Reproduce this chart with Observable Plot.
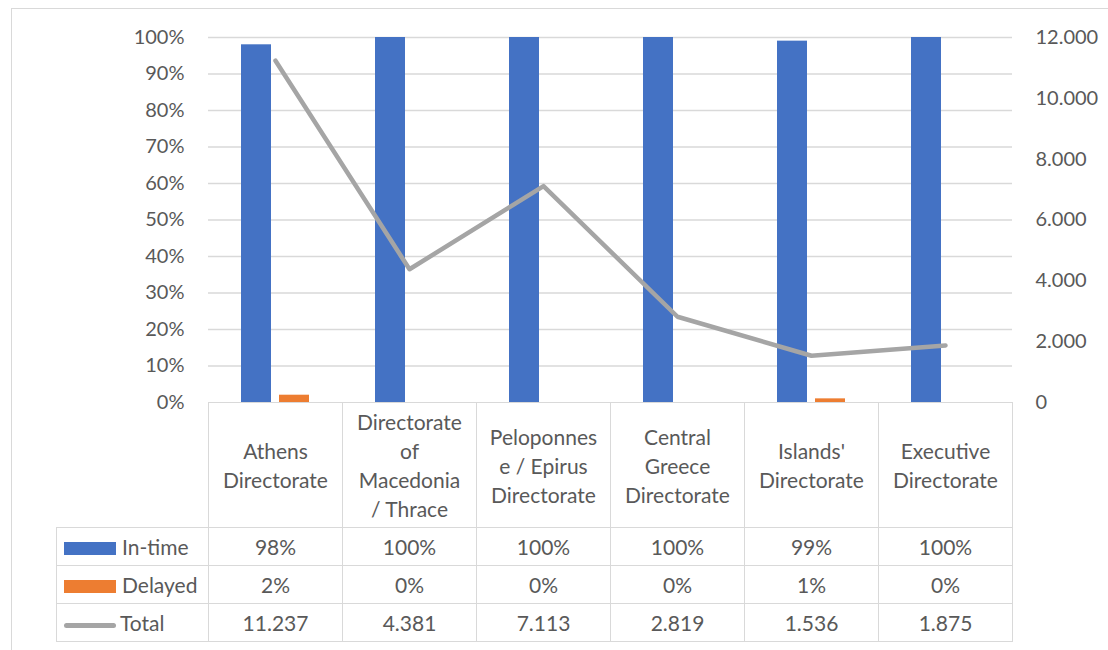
<!DOCTYPE html>
<html>
<head>
<meta charset="utf-8">
<script src="https://cdn.jsdelivr.net/npm/d3@7"></script>
<script src="https://cdn.jsdelivr.net/npm/@observablehq/plot@0.6"></script>
<style>
  html, body { margin: 0; padding: 0; background: #fff; }
  #wrap { position: relative; width: 1108px; height: 650px; overflow: hidden; font-family: Lato, "Open Sans", sans-serif; color: #595959; }
  #frame { position: absolute; left: 11px; top: 8px; width: 1200px; height: 700px; border: 1px solid #D9D9D9; box-sizing: border-box; }
  #chart { position: absolute; left: 0; top: 0; }
  #table { position: absolute; left: 56px; top: 402px; border-collapse: collapse; table-layout: fixed; font-size: 21px; }
  #table td { border: 1.5px solid #D9D9D9; text-align: center; padding: 0; color: #595959; }
  #table tr.head td { height: 124px; line-height: 29px; vertical-align: middle; }
  #table tr.val td { height: 37px; }
  #table td.blank { border-top: none; border-left: none; }
  #table td.leg { text-align: left; white-space: nowrap; }
  .sw { display: inline-block; width: 52px; height: 13px; margin-left: 7px; margin-right: 6px; vertical-align: middle; position: relative; top: -1px; }
  .ln { display: inline-block; width: 52px; height: 5px; border-radius: 3px; margin-left: 7px; margin-right: 4px; vertical-align: middle; background: #A5A5A5; }
</style>
</head>
<body>
<div id="wrap">
  <div id="frame"></div>
  <div id="chart"></div>
  <table id="table"></table>
</div>
<script>
// ---- data ----
const categories = [
  "Athens Directorate",
  "Directorate of Macedonia / Thrace",
  "Peloponnese / Epirus Directorate",
  "Central Greece Directorate",
  "Islands' Directorate",
  "Executive Directorate"
];
const headerLines = [
  ["Athens", "Directorate"],
  ["Directorate", "of", "Macedonia", "/ Thrace"],
  ["Peloponnes", "e / Epirus", "Directorate"],
  ["Central", "Greece", "Directorate"],
  ["Islands'", "Directorate"],
  ["Executive", "Directorate"]
];
const inTime  = [0.98, 1.00, 1.00, 1.00, 0.99, 1.00];
const delayed = [0.02, 0.00, 0.00, 0.00, 0.01, 0.00];
const totals  = [11237, 4381, 7113, 2819, 1536, 1875];
const seriesNames = ["In-time", "Delayed", "Total"];
const colors = ["#4472C4", "#ED7D31", "#A5A5A5"];
const leftTicks = [0, 0.1, 0.2, 0.3, 0.4, 0.5, 0.6, 0.7, 0.8, 0.9, 1.0];
const rightTicks = [0, 2000, 4000, 6000, 8000, 10000, 12000];
const rightMax = 12000;

// ---- formats ----
const loc = d3.formatLocale({decimal: ",", thousands: ".", grouping: [3], currency: ["", ""]});
const fmtNum = loc.format(",.0f");
const fmtPct = d3.format(".0%");

const rows = categories.map((c, i) => ({cat: c, inTime: inTime[i], delayed: delayed[i], total: totals[i], totalScaled: totals[i] / rightMax}));

const chart = Plot.plot({
  width: 1108,
  height: 410,
  marginLeft: 208,
  marginRight: 96,
  marginTop: 37,
  marginBottom: 8,
  style: {fontFamily: "Lato, 'Open Sans', sans-serif", fontSize: "20px", background: "transparent", overflow: "visible"},
  x: {domain: categories, padding: 0, axis: null},
  y: {domain: [0, 1], axis: null},
  marks: [
    Plot.gridY(leftTicks.filter(d => d > 0), {stroke: "#D9D9D9", strokeOpacity: 1, strokeWidth: 1.5}),
    Plot.axisY(leftTicks, {anchor: "left", tickFormat: fmtPct, tickSize: 0, tickPadding: 24, color: "#595959", fontSize: 20}),
    Plot.axisY(rightTicks.map(v => v / rightMax), {anchor: "right", tickFormat: d => fmtNum(d * rightMax), tickSize: 0, tickPadding: 23, color: "#595959", fontSize: 20}),
    Plot.barY(rows, {x: "cat", y: "inTime", fill: colors[0], insetLeft: 33, insetRight: 71}),
    Plot.barY(rows, {x: "cat", y: "delayed", fill: colors[1], insetLeft: 71, insetRight: 33}),
    Plot.lineY(rows, {x: "cat", y: "totalScaled", stroke: colors[2], strokeWidth: 4.5, strokeLinecap: "round", strokeLinejoin: "round"})
  ]
});
document.getElementById("chart").appendChild(chart);

// ---- data table ----
const table = document.getElementById("table");
const colgroup = document.createElement("colgroup");
[152, ...categories.map(() => 134)].forEach(w => {
  const col = document.createElement("col");
  col.style.width = w + "px";
  colgroup.appendChild(col);
});
table.appendChild(colgroup);

const head = document.createElement("tr");
head.className = "head";
const blank = document.createElement("td");
blank.className = "blank";
head.appendChild(blank);
headerLines.forEach(lines => {
  const td = document.createElement("td");
  lines.forEach((l, k) => {
    if (k) td.appendChild(document.createElement("br"));
    td.appendChild(document.createTextNode(l));
  });
  head.appendChild(td);
});
table.appendChild(head);

const valueRows = [
  {name: seriesNames[0], vals: inTime.map(fmtPct), kind: "sw", color: colors[0]},
  {name: seriesNames[1], vals: delayed.map(fmtPct), kind: "sw", color: colors[1]},
  {name: seriesNames[2], vals: totals.map(fmtNum), kind: "ln", color: colors[2]}
];
valueRows.forEach(r => {
  const tr = document.createElement("tr");
  tr.className = "val";
  const leg = document.createElement("td");
  leg.className = "leg";
  const sw = document.createElement("span");
  sw.className = r.kind;
  sw.style.background = r.color;
  leg.appendChild(sw);
  leg.appendChild(document.createTextNode(r.name));
  tr.appendChild(leg);
  r.vals.forEach(v => {
    const td = document.createElement("td");
    td.textContent = v;
    tr.appendChild(td);
  });
  table.appendChild(tr);
});
</script>
</body>
</html>
